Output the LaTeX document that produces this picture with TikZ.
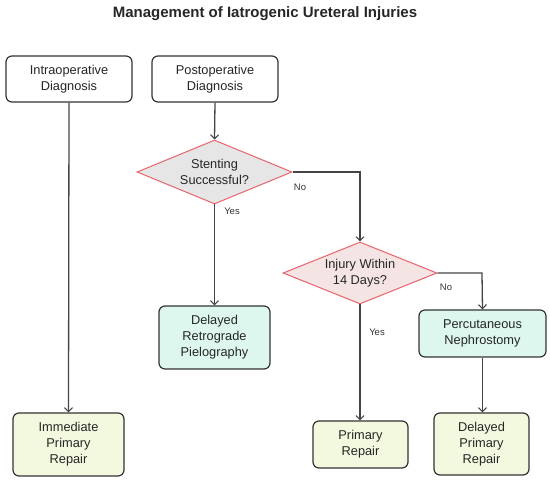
\documentclass[tikz,border=0pt]{standalone}
\usepackage{fontspec}
\setmainfont{Liberation Sans}
\usetikzlibrary{shapes.geometric,arrows.meta}
\definecolor{edgec}{HTML}{454545}
\definecolor{boxline}{HTML}{333333}
\definecolor{mint}{HTML}{DDF7EF}
\definecolor{lime}{HTML}{F2F9DF}
\definecolor{diaA}{HTML}{E6E6E6}
\definecolor{diaB}{HTML}{F4E4E4}
\definecolor{dialine}{HTML}{E9636B}
\tikzset{
  box/.style={draw=boxline, line width=1.2pt, rounded corners=6pt, align=center,
    inner sep=0pt, font=\fontsize{12.8}{16}\selectfont, text=black!85},
  whitebox/.style={box, fill=white},
  mintbox/.style={box, fill=mint},
  limebox/.style={box, fill=lime},
  decision/.style={diamond, aspect=2.42, draw=dialine, line width=1pt, align=center, inner sep=0pt,
    font=\fontsize{12.8}{16}\selectfont, text=black!85},
  conn/.style={draw=edgec, line width=1.3pt, -{Straight Barb[length=4pt,width=8pt,line width=1.1pt]}},
  lbl/.style={font=\fontsize{9.5}{11}\selectfont, text=black!80, inner sep=0pt}
}
\begin{document}
\begin{tikzpicture}[x=1pt,y=-1pt]
\useasboundingbox (0,0) rectangle (550,481);
\node[font=\bfseries\fontsize{15}{18}\selectfont, text=black!85] (title) at (265,14) {Management of Iatrogenic Ureteral Injuries};

\node[whitebox, minimum width=126pt, minimum height=46pt] (intra) at (69,79) {Intraoperative\\Diagnosis};
\node[whitebox, minimum width=126pt, minimum height=46pt] (post) at (215,79) {Postoperative\\Diagnosis};

\node[decision, fill=diaA, minimum width=155pt, minimum height=64pt] (d1) at (214.5,172) {Stenting\\Successful?};
\node[decision, fill=diaB, minimum width=154pt, minimum height=62pt] (d2) at (360,273) {Injury Within\\14 Days?};

\node[mintbox, minimum width=111pt, minimum height=63pt] (retro) at (214.5,337.5) {Delayed\\Retrograde\\Pielography};
\node[mintbox, minimum width=127pt, minimum height=47pt] (perc) at (482.5,333.5) {Percutaneous\\Nephrostomy};

\node[limebox, minimum width=111pt, minimum height=63pt] (imm) at (68.5,444.5) {Immediate\\Primary\\Repair};
\node[limebox, minimum width=95pt, minimum height=47pt] (prim) at (360.5,444.5) {Primary\\Repair};
\node[limebox, minimum width=95pt, minimum height=62pt] (dpr) at (481.5,444) {Delayed\\Primary\\Repair};

\coordinate (c1) at (360,172);
\coordinate (c2) at (482,273);

\draw[conn] (intra.south) -- (imm.north);
\draw[conn] (post.south) -- (d1.north);
\draw[conn] (d1.east) -- (c1) -- (d2.north);
\draw[conn] (d1.south) -- (retro.north);
\draw[conn] (d2.south) -- (d2.south |- prim.north);
\draw[conn] (d2.east) -- (c2) -- (perc.north);
\draw[conn] (perc.south) -- (perc.south |- dpr.north);

\node[lbl] (no1) at (300,187) {No};
\node[lbl] (yes1) at (232,211) {Yes};
\node[lbl] (no2) at (446,287) {No};
\node[lbl] (yes2) at (377,332) {Yes};
\end{tikzpicture}
\end{document}
